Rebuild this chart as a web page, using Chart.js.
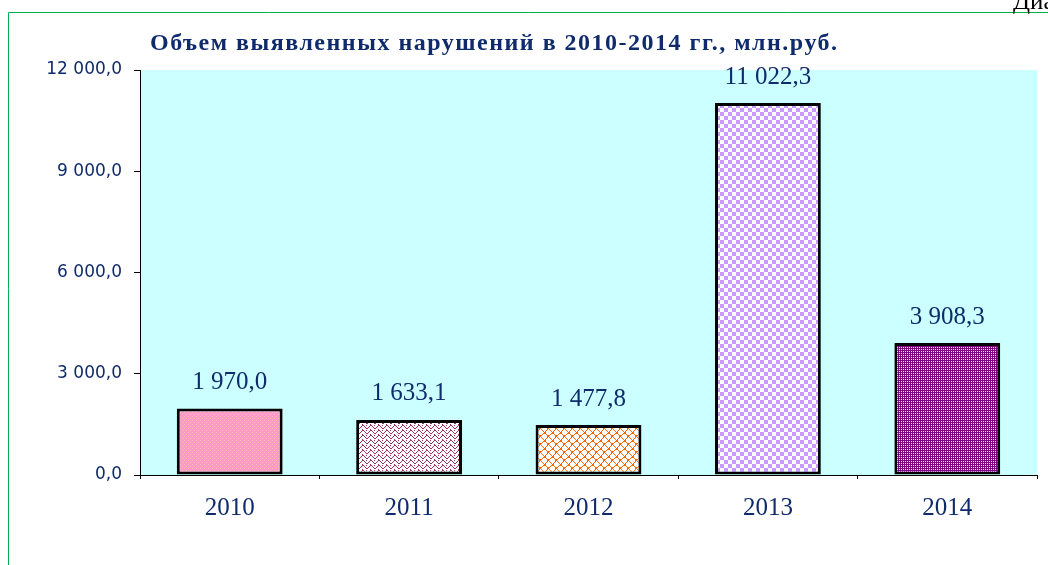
<!DOCTYPE html>
<html>
<head>
<meta charset="utf-8">
<script src="https://cdn.jsdelivr.net/npm/chart.js@4"></script>
<style>
  html, body { margin: 0; padding: 0; background: #fff; }
  #wrap { position: relative; width: 1048px; height: 565px; overflow: hidden; }
</style>
</head>
<body>
<div id="wrap"><canvas id="chart" width="1048" height="565"></canvas></div>
<script>
// data
const years = ['2010', '2011', '2012', '2013', '2014'];
const volumes = [1970.0, 1633.1, 1477.8, 11022.3, 3908.3];
const yTicks = [0, 3000, 6000, 9000, 12000];
const titleText = 'Объем выявленных нарушений в 2010-2014 гг., млн.руб.';

const navy = '#0F2B6B';

function fmt(v) {
  const parts = v.toFixed(1).split('.');
  const intPart = parts[0].replace(/\B(?=(\d{3})+(?!\d))/g, ' ');
  return intPart + ',' + parts[1];
}

const canvas = document.getElementById('chart');
const ctx = canvas.getContext('2d');

// small tile patterns for the bars
function makePattern(w, h, bg, draw) {
  const c = document.createElement('canvas');
  c.width = w; c.height = h;
  const g = c.getContext('2d');
  g.fillStyle = bg;
  g.fillRect(0, 0, w, h);
  draw(g);
  return ctx.createPattern(c, 'repeat');
}
function px(g, col, pts) {
  g.fillStyle = col;
  pts.forEach(p => g.fillRect(p[0], p[1], 1, 1));
}

const patterns = [
  // pink with light diagonal dots
  makePattern(4, 4, '#FF99CC', g => px(g, '#FFC4A8', [[0,0],[2,2]])),
  // white with maroon waves
  makePattern(8, 5, '#FFFFFF', g => px(g, '#993366', [[0,2],[1,1],[2,0],[3,0],[4,1],[5,2],[6,3],[7,3],[2,4],[6,0]])),
  // white with orange scallop lattice
  makePattern(8, 8, '#FFFFFF', g => px(g, '#FF6600', [
    [0,0],[1,1],[2,2],[3,3],[4,4],[5,5],[6,6],[7,7],
    [7,1],[6,2],[5,3],[3,5],[2,6],[1,7],
    [4,3],[3,4],[0,1],[1,0]
  ])),
  // lavender checkerboard
  makePattern(8, 8, '#FFFFFF', g => {
    g.fillStyle = '#CC99FF';
    g.fillRect(0, 0, 4, 4);
    g.fillRect(4, 4, 4, 4);
  }),
  // purple fine weave
  makePattern(4, 4, '#FFFFFF', g => px(g, '#800080', [[0,0],[1,0],[2,0],[3,0],[0,1],[0,2],[0,3],[2,2],[1,2],[2,1],[3,2],[2,3]]))
];

const decor = {
  id: 'decor',
  beforeDraw(chart) {
    const a = chart.chartArea;
    const c = chart.ctx;
    c.save();
    c.fillStyle = '#CCFFFF';
    c.fillRect(a.left, a.top, a.right - a.left, a.bottom - a.top);
    // green frame
    c.strokeStyle = '#00B050';
    c.lineWidth = 1;
    c.beginPath();
    c.moveTo(8.5, 565);
    c.lineTo(8.5, 12.5);
    c.lineTo(1048, 12.5);
    c.stroke();
    // title
    c.fillStyle = navy;
    c.font = 'bold 24px "Liberation Serif"';
    c.letterSpacing = '1.5px';
    c.textAlign = 'left';
    c.textBaseline = 'middle';
    c.fillText(titleText, 150, 44);
    c.letterSpacing = '0px';
    // cut caption top right
    c.fillStyle = '#000';
    c.font = '25px "Liberation Serif"';
    c.textBaseline = 'alphabetic';
    c.fillText('Диаграмма 1', 1013, 9);
    c.restore();
  },
  afterDatasetsDraw(chart) {
    const c = chart.ctx;
    const meta = chart.getDatasetMeta(0);
    c.save();
    c.fillStyle = navy;
    c.font = '25px "Liberation Serif"';
    c.textAlign = 'center';
    c.textBaseline = 'middle';
    meta.data.forEach((bar, i) => {
      c.fillText(fmt(volumes[i]), bar.x, bar.y - 26);
    });
    c.restore();
  }
};

new Chart(ctx, {
  type: 'bar',
  data: {
    labels: years,
    datasets: [{
      data: volumes,
      backgroundColor: patterns,
      borderColor: '#000',
      borderWidth: 3,
      borderSkipped: false,
      categoryPercentage: 1,
      barPercentage: 0.59
    }]
  },
  options: {
    responsive: false,
    animation: false,
    events: [],
    layout: { padding: { top: 70, right: 11, left: 0, bottom: 0 } },
    plugins: { legend: { display: false }, tooltip: { enabled: false }, title: { display: false } },
    scales: {
      x: {
        offset: true,
        grid: { offset: true, drawOnChartArea: false, color: '#000', tickLength: 4 },
        border: { color: '#000', width: 1 },
        ticks: { color: navy, font: { family: 'Liberation Serif', size: 25 }, padding: 14 },
        afterFit(scale) { scale.height = 90; }
      },
      y: {
        min: 0,
        max: 12000,
        afterBuildTicks(scale) { scale.ticks = yTicks.map(v => ({ value: v })); },
        grid: { drawOnChartArea: false, color: '#000', tickLength: 6 },
        border: { color: '#000', width: 1 },
        ticks: {
          color: navy,
          font: { family: 'DejaVu Sans', size: 17 },
          padding: 12,
          callback: v => fmt(v)
        },
        afterFit(scale) { scale.width = 140; }
      }
    }
  },
  plugins: [decor]
});
</script>
</body>
</html>
